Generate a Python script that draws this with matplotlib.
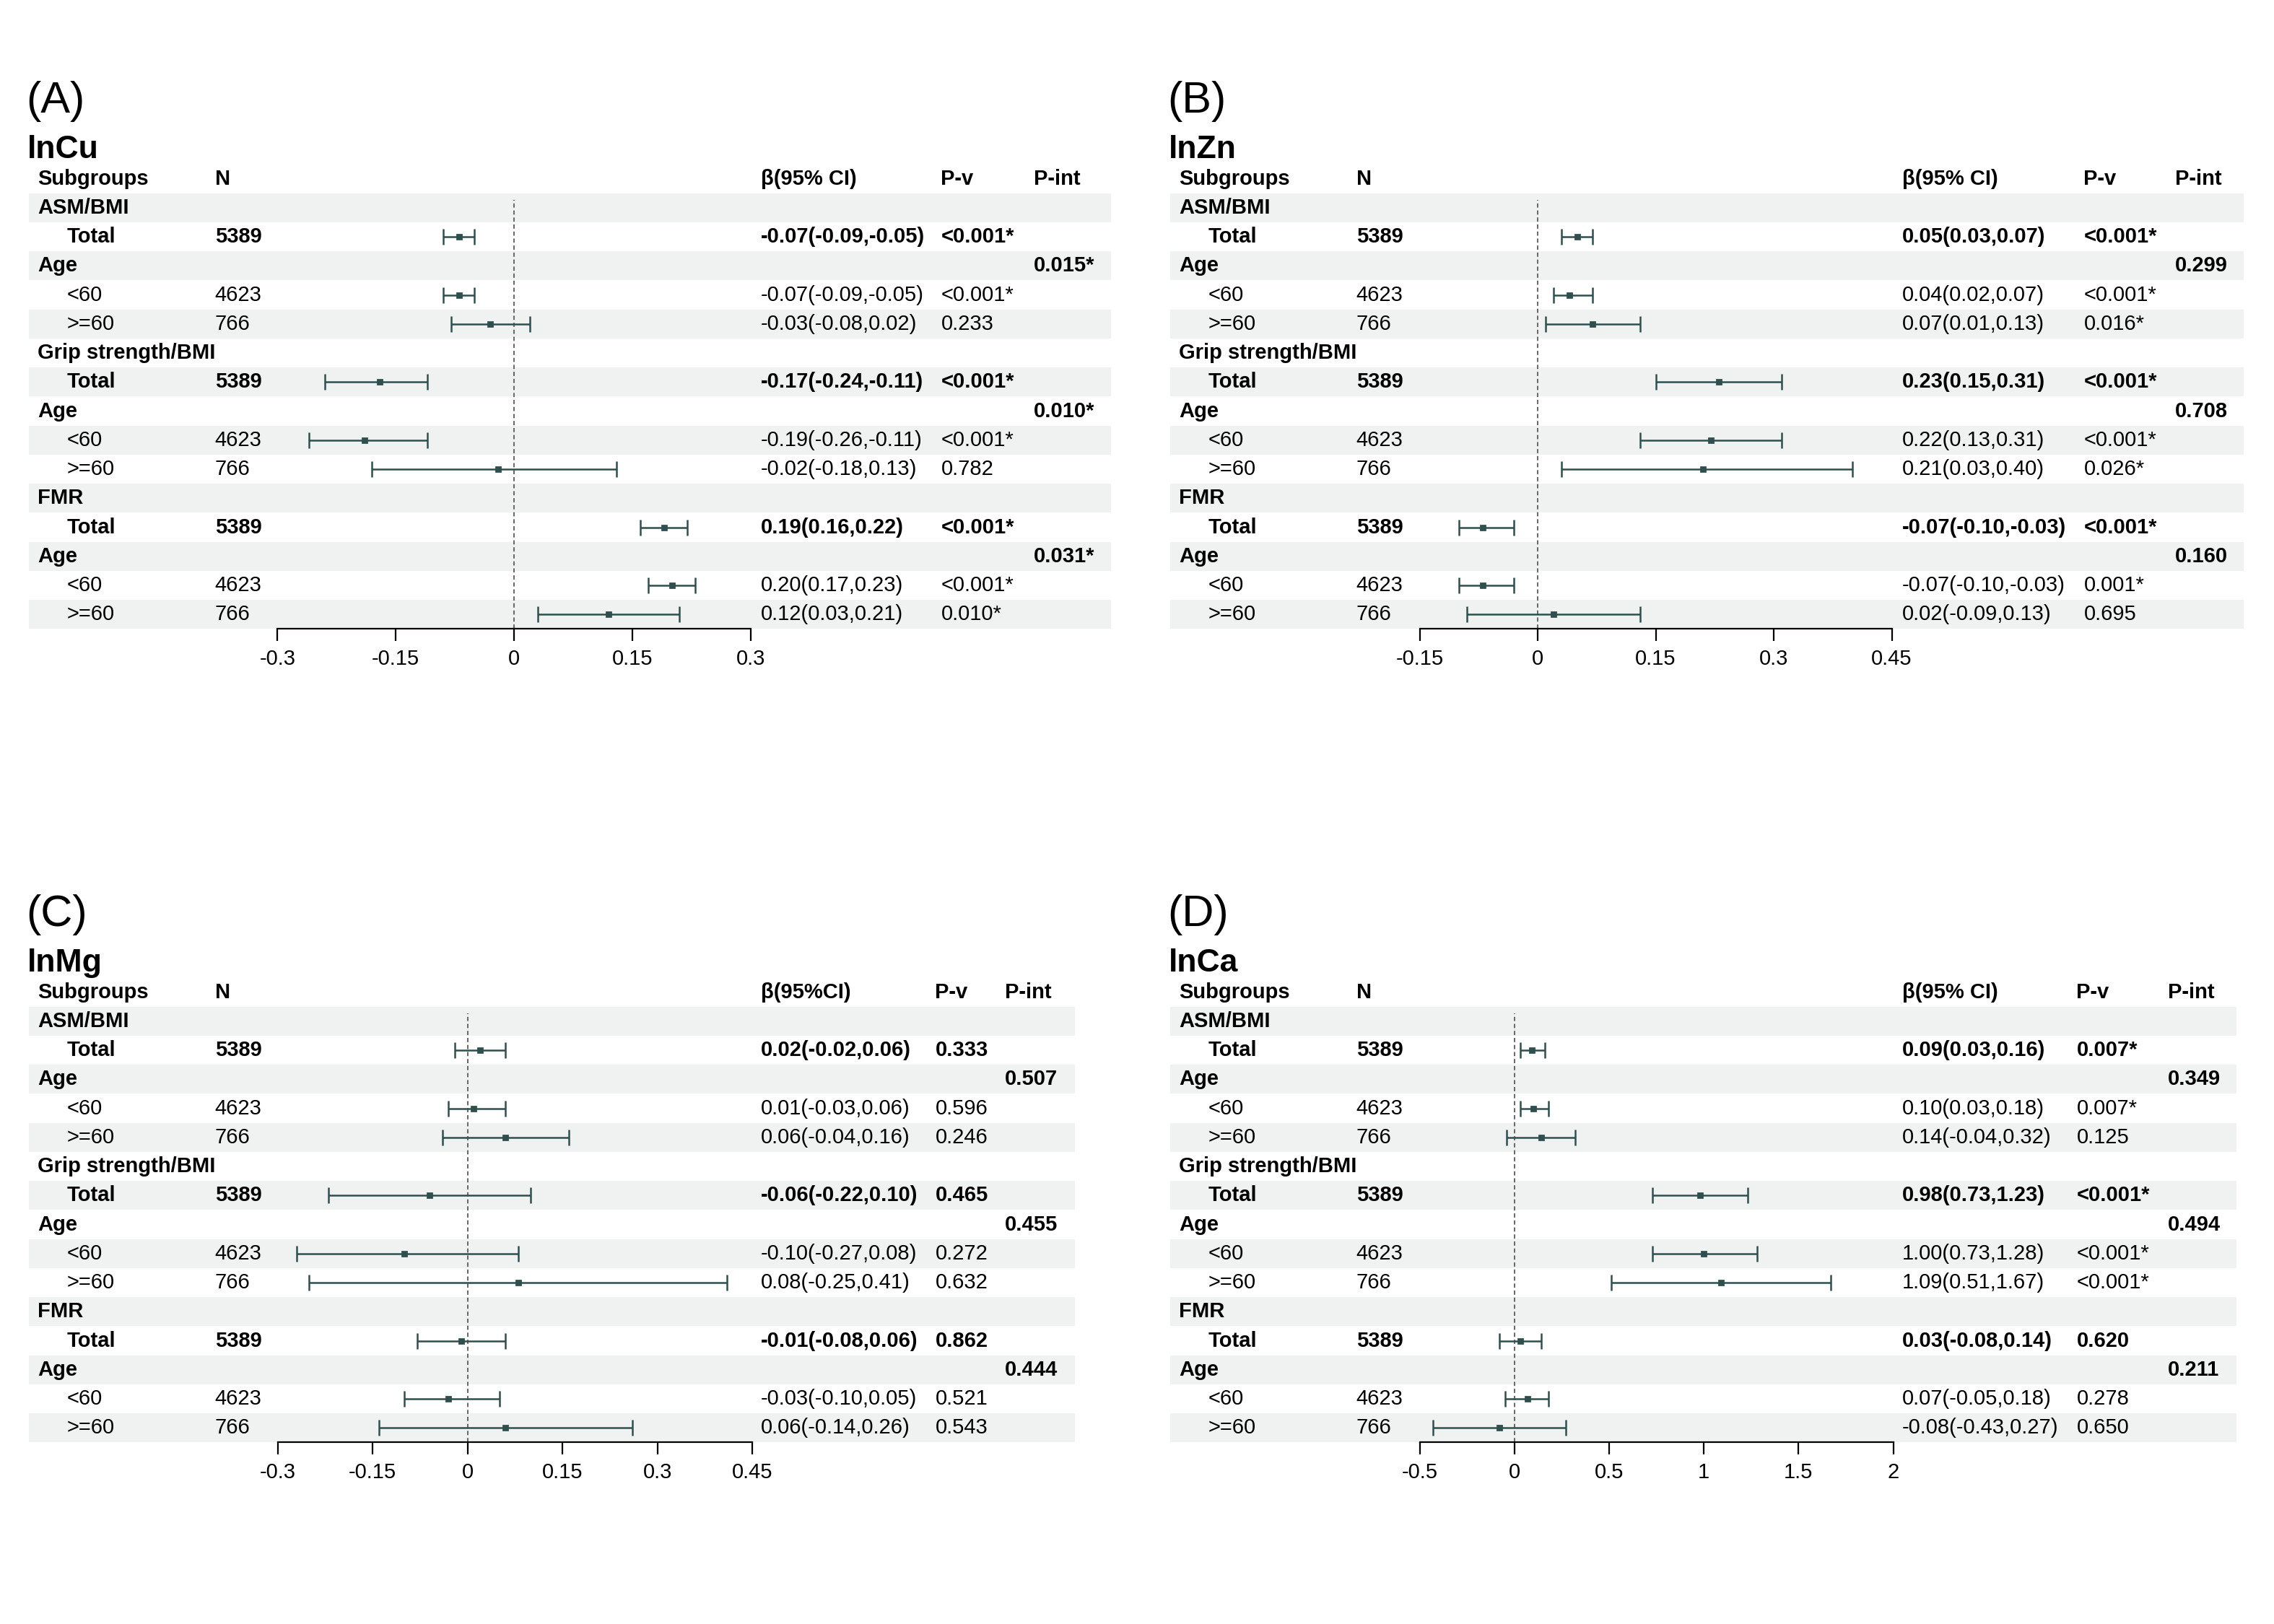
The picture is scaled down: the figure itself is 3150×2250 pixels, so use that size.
import matplotlib.pyplot as plt
import matplotlib.transforms as mtransforms

plt.rcParams['font.family'] = ['Liberation Sans', 'DejaVu Sans']

outcomes = ['ASM/BMI', 'Grip strength/BMI', 'FMR']
subgroups = ['Total', '<60', '>=60']
n_values = ['5389', '4623', '766']

# beta, lower, upper for Total, <60, >=60 within each outcome
cu_beta = [[-0.07, -0.09, -0.05], [-0.07, -0.09, -0.05], [-0.03, -0.08, 0.02],
           [-0.17, -0.24, -0.11], [-0.19, -0.26, -0.11], [-0.02, -0.18, 0.13],
           [0.19, 0.16, 0.22], [0.20, 0.17, 0.23], [0.12, 0.03, 0.21]]
cu_p = ['<0.001*', '<0.001*', '0.233', '<0.001*', '<0.001*', '0.782', '<0.001*', '<0.001*', '0.010*']
cu_pint = ['0.015*', '0.010*', '0.031*']

zn_beta = [[0.05, 0.03, 0.07], [0.04, 0.02, 0.07], [0.07, 0.01, 0.13],
           [0.23, 0.15, 0.31], [0.22, 0.13, 0.31], [0.21, 0.03, 0.40],
           [-0.07, -0.10, -0.03], [-0.07, -0.10, -0.03], [0.02, -0.09, 0.13]]
zn_p = ['<0.001*', '<0.001*', '0.016*', '<0.001*', '<0.001*', '0.026*', '<0.001*', '0.001*', '0.695']
zn_pint = ['0.299', '0.708', '0.160']

mg_beta = [[0.02, -0.02, 0.06], [0.01, -0.03, 0.06], [0.06, -0.04, 0.16],
           [-0.06, -0.22, 0.10], [-0.10, -0.27, 0.08], [0.08, -0.25, 0.41],
           [-0.01, -0.08, 0.06], [-0.03, -0.10, 0.05], [0.06, -0.14, 0.26]]
mg_p = ['0.333', '0.596', '0.246', '0.465', '0.272', '0.632', '0.862', '0.521', '0.543']
mg_pint = ['0.507', '0.455', '0.444']

ca_beta = [[0.09, 0.03, 0.16], [0.10, 0.03, 0.18], [0.14, -0.04, 0.32],
           [0.98, 0.73, 1.23], [1.00, 0.73, 1.28], [1.09, 0.51, 1.67],
           [0.03, -0.08, 0.14], [0.07, -0.05, 0.18], [-0.08, -0.43, 0.27]]
ca_p = ['0.007*', '0.007*', '0.125', '<0.001*', '<0.001*', '<0.001*', '0.620', '0.278', '0.650']
ca_pint = ['0.349', '0.494', '0.211']

cu_ticks = [-0.3, -0.15, 0, 0.15, 0.3]
zn_ticks = [-0.15, 0, 0.15, 0.3, 0.45]
mg_ticks = [-0.3, -0.15, 0, 0.15, 0.3, 0.45]
ca_ticks = [-0.5, 0, 0.5, 1, 1.5, 2]

W, H = 1566.0, 1118.0
fig = plt.figure(figsize=(15.75, 11.25), dpi=200)
col_line = '#2F4F4F'
shade = '#EFF2F1'


def fx(px):
    return px / W


def fy(py):
    return 1 - py / H


def panel(letter, metal, beta, pvals, pint, ticks, left, right, top, zero, scale,
          cols, beta_head):
    bottom = top + 300
    ax = fig.add_axes([fx(left), fy(bottom), fx(right - left), (bottom - top) / H])
    ax.set_xlim((left - zero) / scale, (right - zero) / scale)
    ax.set_ylim(15.5, 0.5)
    tr = mtransforms.blended_transform_factory(ax.transAxes, ax.transData)
    width = right - left

    def cx(px):
        return (px - left) / width

    for r in range(1, 16, 2):
        ax.axhspan(r - 0.5, r + 0.5, color=shade, lw=0, zorder=0)

    fs = 10.5
    ax.text(cx(left + 6), 0, 'Subgroups', transform=tr, fontsize=fs, fontweight='bold', va='center')
    ax.text(cx(cols[0]), 0, 'N', transform=tr, fontsize=fs, fontweight='bold', va='center')
    ax.text(cx(cols[1]), 0, beta_head, transform=tr, fontsize=fs, fontweight='bold', va='center')
    ax.text(cx(cols[2]), 0, 'P-v', transform=tr, fontsize=fs, fontweight='bold', va='center')
    ax.text(cx(cols[3]), 0, 'P-int', transform=tr, fontsize=fs, fontweight='bold', va='center')

    row = 1
    for g, name in enumerate(outcomes):
        ax.text(cx(left + 6), row, name, transform=tr, fontsize=fs, fontweight='bold', va='center')
        row += 1
        for k, sub in enumerate(subgroups):
            i = g * 3 + k
            if k == 1:
                ax.text(cx(left + 6), row, 'Age', transform=tr, fontsize=fs, fontweight='bold', va='center')
                ax.text(cx(cols[3]), row, pint[g], transform=tr, fontsize=fs, fontweight='bold', va='center')
                row += 1
            wt = 'bold' if k == 0 else 'normal'
            b, lo, hi = beta[i]
            ax.text(cx(left + 26), row, sub, transform=tr, fontsize=fs, fontweight=wt, va='center')
            ax.text(cx(cols[0]), row, n_values[k], transform=tr, fontsize=fs, fontweight=wt, va='center')
            ax.text(cx(cols[1]), row, f'{b:.2f}({lo:.2f},{hi:.2f})', transform=tr,
                    fontsize=fs, fontweight=wt, va='center')
            ax.text(cx(cols[2]), row, pvals[i], transform=tr, fontsize=fs, fontweight=wt, va='center')
            ax.errorbar(b, row, xerr=[[b - lo], [hi - b]], fmt='s', color=col_line, ms=2.5,
                        elinewidth=0.9, capsize=4, capthick=0.9, zorder=3)
            row += 1

    ax.axvline(0, ymin=0, ymax=0.985, color='#666666', lw=0.7, ls=(0, (3, 2)), zorder=2)
    for s in ['top', 'right', 'left']:
        ax.spines[s].set_visible(False)
    ax.spines['bottom'].set_bounds(ticks[0], ticks[-1])
    ax.spines['bottom'].set_linewidth(0.8)
    ax.set_xticks(ticks)
    ax.set_xticklabels([f'{t:g}' for t in ticks], fontsize=10.5)
    ax.tick_params(axis='x', length=6, width=0.8, pad=4)
    ax.set_yticks([])
    ax.patch.set_visible(False)

    fig.text(fx(left - 2), fy(top - 63), letter, fontsize=22, va='center')
    fig.text(fx(left - 1), fy(top - 30), metal, fontsize=16, fontweight='bold', va='center')


panel('(A)', 'lnCu', cu_beta, cu_p, cu_pint, cu_ticks, 20, 765, 133, 354, 543,
      [148, 524, 648, 712], 'β(95% CI)')
panel('(B)', 'lnZn', zn_beta, zn_p, zn_pint, zn_ticks, 806, 1545, 133, 1059, 541.7,
      [934, 1310, 1435, 1498], 'β(95% CI)')
panel('(C)', 'lnMg', mg_beta, mg_p, mg_pint, mg_ticks, 20, 740, 693, 322, 436,
      [148, 524, 644, 692], 'β(95%CI)')
panel('(D)', 'lnCa', ca_beta, ca_p, ca_pint, ca_ticks, 806, 1540, 693, 1043, 130.4,
      [934, 1310, 1430, 1493], 'β(95% CI)')

fig.savefig('out.png', dpi=200)
